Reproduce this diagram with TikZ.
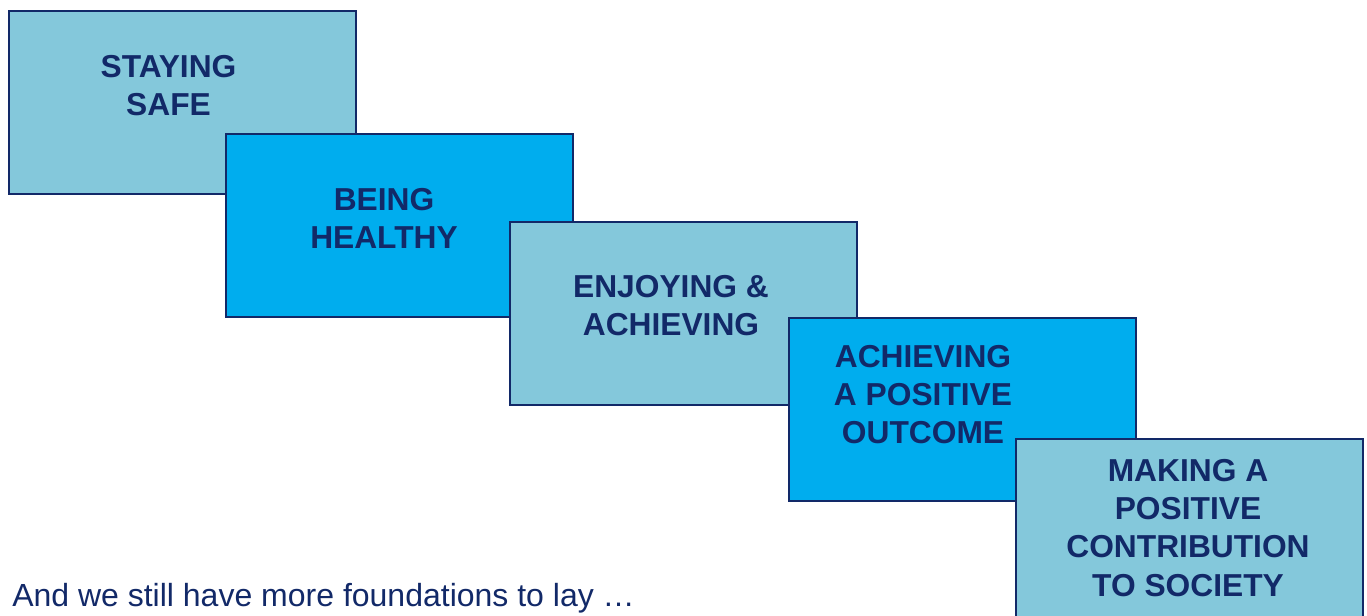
\documentclass[tikz,border=0pt]{standalone}
\usepackage{fontspec}
\setmainfont{Liberation Sans}
\usepackage{tikz}
\usepackage{xcolor}
\usetikzlibrary{positioning, calc}

\definecolor{paleblue}{HTML}{84C8DB}
\definecolor{brightblue}{HTML}{00ADEE}
\definecolor{navy}{HTML}{122968}

\begin{document}
\begin{tikzpicture}[x=0.75pt,y=-0.75pt,
    stepbox/.style={rectangle,draw=navy,line width=1.6pt,inner sep=0pt,
        minimum width=260.25pt,minimum height=137.25pt,anchor=north west},
    stepa/.style={stepbox,fill=paleblue},
    stepb/.style={stepbox,fill=brightblue},
    steptext/.style={anchor=north,inner sep=0pt,align=center,text=navy,
        font={\fontsize{23.8}{28.7}\selectfont\bfseries}}]
        \useasboundingbox (0,0) rectangle (1367,615);
        \node[stepa] (safe) at (8,10) {};
        \node[stepb] (healthy) at (225,133) {};
        \node[stepa] (enjoy) at (509,221) {};
        \node[stepb] (outcome) at (788,317) {};
        \node[stepa] (society) at (1015,438) {};
        \node[steptext] (safetxt) at ([shift={(160.5,45)}]safe.north west) {STAYING\\SAFE};
        \node[steptext] (healthytxt) at ([shift={(159,55)}]healthy.north west) {BEING\\HEALTHY};
        \node[steptext] (enjoytxt) at ([shift={(162,54)}]enjoy.north west) {ENJOYING \&\\ACHIEVING};
        \node[steptext] (outcometxt) at ([shift={(135,28)}]outcome.north west) {ACHIEVING\\A POSITIVE\\OUTCOME};
        \node[steptext] (societytxt) at ([shift={(173,21)}]society.north west) {MAKING A\\POSITIVE\\CONTRIBUTION\\TO SOCIETY};
        \node[anchor=base west,inner sep=0pt,text=navy,font={\fontsize{24}{28}\selectfont}] (more) at (12,606) {And we still have more foundations to lay …};
    \end{tikzpicture}
\end{document}
